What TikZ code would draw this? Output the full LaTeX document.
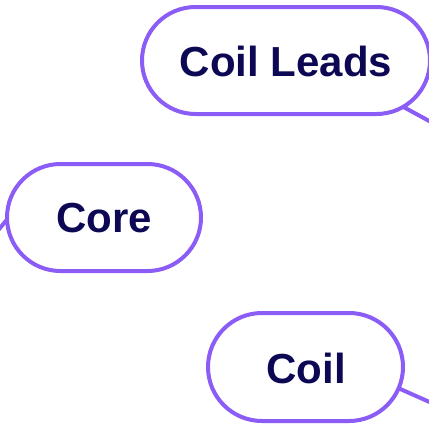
\documentclass[tikz,border=0pt]{standalone}
\usepackage{fontspec}
\setmainfont{Liberation Sans}
\definecolor{edge}{RGB}{139,92,246}
\definecolor{ink}{RGB}{12,8,84}
% stadium outline: centre x, centre y, half width, radius (all in pt)
\newcommand\topicshape[4]{%
  \path[shapeline] (#1pt-#3pt+#4pt,#2pt+#4pt) -- (#1pt+#3pt-#4pt,#2pt+#4pt)
    arc[start angle=90, end angle=-90, radius=#4pt]
    -- (#1pt-#3pt+#4pt,#2pt-#4pt)
    arc[start angle=270, end angle=90, radius=#4pt] -- cycle;}
\begin{document}
\begin{tikzpicture}[x=1pt,y=1pt,
  shapeline/.style={draw=edge, line width=4pt, fill=white},
  topic/.style={inner sep=0pt, text=ink, font=\fontsize{42}{42}\selectfont\bfseries},
  link/.style={draw=edge, line width=4pt}]
  \useasboundingbox (0,0) rectangle (429,-429);
  \path[fill=white] (0,0) rectangle (429,-429);

  % anchor points inside the topics where the links begin
  \coordinate (clIn) at (367,-87);
  \coordinate (coIn) at (25,-198);
  \coordinate (ciIn) at (362,-372);
  % outer ends of the links, toward the parent topics
  \coordinate (clOut) at (452,-133.5);
  \coordinate (coOut) at (-15,-246);
  \coordinate (ciOut) at (452,-412);

  \draw[link] (clIn) -- (clOut);
  \draw[link] (coIn) -- (coOut);
  \draw[link] (ciIn) -- (ciOut);

  \topicshape{286}{-60.5}{144}{53.5}
  \topicshape{104}{-217.5}{97}{53.5}
  \topicshape{305.5}{-367}{97.5}{54}

  \node[topic] (cl) at (286,-61) {Coil Leads};
  \node[topic] (co) at (104,-218) {Core};
  \node[topic] (ci) at (306,-368) {Coil};
\end{tikzpicture}
\end{document}
